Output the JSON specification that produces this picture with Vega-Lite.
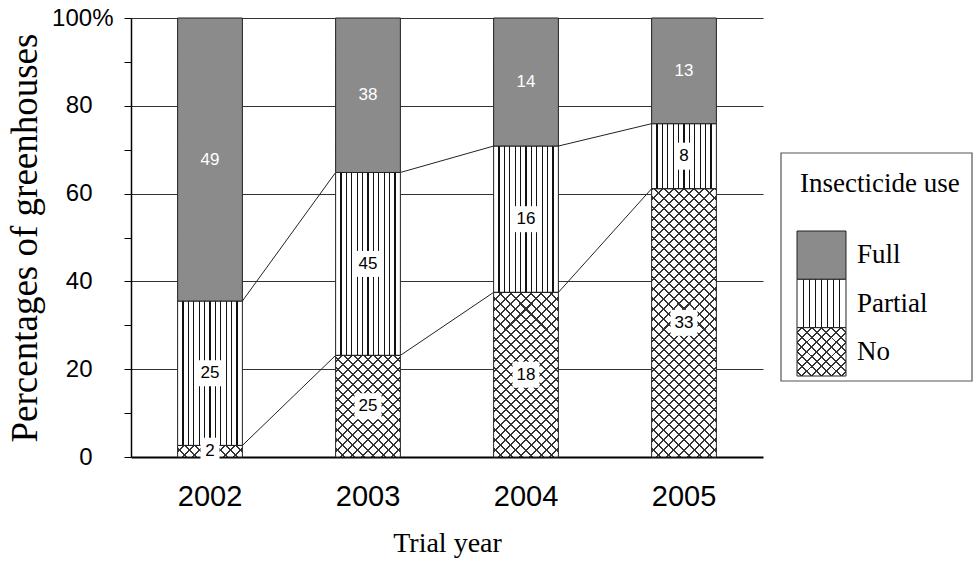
{
"$schema": "https://vega.github.io/schema/vega-lite/v6.json",
"width": 632, "height": 439,
"autosize": {"type": "none"},
"padding": {"left": 131, "top": 18, "right": 210, "bottom": 113},
"background": "white",
"config": {"view": {"stroke": null}, "font": "Liberation Sans"},
"resolve": {"scale": {"x": "independent", "y": "independent"}},
"layer": [
{
 "data": {"values": [
  {"year": "2002", "use": "No", "n": 2},
  {"year": "2002", "use": "Partial", "n": 25},
  {"year": "2002", "use": "Full", "n": 49},
  {"year": "2003", "use": "No", "n": 25},
  {"year": "2003", "use": "Partial", "n": 45},
  {"year": "2003", "use": "Full", "n": 38},
  {"year": "2004", "use": "No", "n": 18},
  {"year": "2004", "use": "Partial", "n": 16},
  {"year": "2004", "use": "Full", "n": 14},
  {"year": "2005", "use": "No", "n": 33},
  {"year": "2005", "use": "Partial", "n": 8},
  {"year": "2005", "use": "Full", "n": 13}
 ]},
 "transform": [
  {"calculate": "indexof(['No','Partial','Full'], datum.use)", "as": "order"},
  {"joinaggregate": [{"op": "sum", "field": "n", "as": "total"}], "groupby": ["year"]},
  {"window": [{"op": "sum", "field": "n", "as": "cum"}], "groupby": ["year"], "sort": [{"field": "order"}], "frame": [null, 0]},
  {"calculate": "100*datum.cum/datum.total", "as": "pct_end"},
  {"calculate": "100*(datum.cum-datum.n)/datum.total", "as": "pct_start"},
  {"calculate": "(datum.pct_start+datum.pct_end)/2", "as": "pct_mid"}
 ],
 "encoding": {
  "x": {"field": "year", "type": "ordinal", "title": "Trial year",
   "scale": {"paddingInner": 0.59, "paddingOuter": 0.295},
   "axis": {"ticks": false, "labelAngle": 0, "labelFont": "Liberation Sans", "labelFontSize": 29, "labelColor": "#000", "labelPadding": 25, "domainColor": "#000", "domainWidth": 2, "grid": false, "titleFont": "Liberation Serif", "titleFontSize": 28, "titleFontWeight": "normal", "titleColor": "#000", "titlePadding": 18}},
  "y": {"field": "pct_end", "type": "quantitative", "title": "Percentages of greenhouses",
   "scale": {"domain": [0, 100], "nice": false},
   "axis": {"values": [0,10,20,30,40,50,60,70,80,90,100],
    "labelExpr": "datum.value === 100 ? '100%' : (datum.value % 20 === 0 ? datum.label : '')",
    "grid": true,
    "gridOpacity": {"condition": {"test": "datum.value % 20 === 0 && datum.value > 0", "value": 1}, "value": 0},
    "gridColor": "#333", "gridWidth": 1,
    "labelPadding": {"condition": {"test": "datum.value === 100", "value": 11}, "value": 32},
    "tickSize": 7, "tickColor": "#000", "tickWidth": 1,
    "domainColor": "#000", "domainWidth": 1.5,
    "labelFont": "Liberation Sans", "labelFontSize": 24, "labelColor": "#000",
    "titleFont": "Liberation Serif", "titleFontSize": 37, "titleFontWeight": "normal", "titleColor": "#000", "titlePadding": 7}}
 },
 "layer": [
  {
   "transform": [
    {"filter": "datum.use !== 'Full'"},
    {"window": [{"op": "lead", "field": "pct_end", "as": "next_pct"}, {"op": "lead", "field": "year", "as": "next_year"}], "groupby": ["use"], "sort": [{"field": "year"}]},
    {"filter": "datum.next_year != null"}
   ],
   "mark": {"type": "rule", "stroke": "#222", "strokeWidth": 1},
   "encoding": {
    "x": {"field": "year", "type": "ordinal", "bandPosition": 1, "title": "Trial year"},
    "x2": {"field": "next_year", "bandPosition": 0},
    "y2": {"field": "next_pct"}
   }
  },
  {
   "transform": [{"filter": "datum.use === 'No'"}],
   "mark": {"type": "bar", "fill": {"gradient": "linear", "x1": 0, "y1": 0, "x2": 0.1658, "y2": 1.123, "stops": [
{"offset":0,"color":"#333"},{"offset":0.004,"color":"#333"},{"offset":0.004,"color":"#fff"},
{"offset":0.02,"color":"#fff"},{"offset":0.02,"color":"#333"},{"offset":0.024,"color":"#333"},{"offset":0.024,"color":"#fff"},
{"offset":0.04,"color":"#fff"},{"offset":0.04,"color":"#333"},{"offset":0.044,"color":"#333"},{"offset":0.044,"color":"#fff"},
{"offset":0.06,"color":"#fff"},{"offset":0.06,"color":"#333"},{"offset":0.064,"color":"#333"},{"offset":0.064,"color":"#fff"},
{"offset":0.08,"color":"#fff"},{"offset":0.08,"color":"#333"},{"offset":0.084,"color":"#333"},{"offset":0.084,"color":"#fff"},
{"offset":0.1,"color":"#fff"},{"offset":0.1,"color":"#333"},{"offset":0.104,"color":"#333"},{"offset":0.104,"color":"#fff"},
{"offset":0.12,"color":"#fff"},{"offset":0.12,"color":"#333"},{"offset":0.124,"color":"#333"},{"offset":0.124,"color":"#fff"},
{"offset":0.14,"color":"#fff"},{"offset":0.14,"color":"#333"},{"offset":0.144,"color":"#333"},{"offset":0.144,"color":"#fff"},
{"offset":0.16,"color":"#fff"},{"offset":0.16,"color":"#333"},{"offset":0.164,"color":"#333"},{"offset":0.164,"color":"#fff"},
{"offset":0.18,"color":"#fff"},{"offset":0.18,"color":"#333"},{"offset":0.184,"color":"#333"},{"offset":0.184,"color":"#fff"},
{"offset":0.2,"color":"#fff"},{"offset":0.2,"color":"#333"},{"offset":0.204,"color":"#333"},{"offset":0.204,"color":"#fff"},
{"offset":0.22,"color":"#fff"},{"offset":0.22,"color":"#333"},{"offset":0.224,"color":"#333"},{"offset":0.224,"color":"#fff"},
{"offset":0.24,"color":"#fff"},{"offset":0.24,"color":"#333"},{"offset":0.244,"color":"#333"},{"offset":0.244,"color":"#fff"},
{"offset":0.26,"color":"#fff"},{"offset":0.26,"color":"#333"},{"offset":0.264,"color":"#333"},{"offset":0.264,"color":"#fff"},
{"offset":0.28,"color":"#fff"},{"offset":0.28,"color":"#333"},{"offset":0.284,"color":"#333"},{"offset":0.284,"color":"#fff"},
{"offset":0.3,"color":"#fff"},{"offset":0.3,"color":"#333"},{"offset":0.304,"color":"#333"},{"offset":0.304,"color":"#fff"},
{"offset":0.32,"color":"#fff"},{"offset":0.32,"color":"#333"},{"offset":0.324,"color":"#333"},{"offset":0.324,"color":"#fff"},
{"offset":0.34,"color":"#fff"},{"offset":0.34,"color":"#333"},{"offset":0.344,"color":"#333"},{"offset":0.344,"color":"#fff"},
{"offset":0.36,"color":"#fff"},{"offset":0.36,"color":"#333"},{"offset":0.364,"color":"#333"},{"offset":0.364,"color":"#fff"},
{"offset":0.38,"color":"#fff"},{"offset":0.38,"color":"#333"},{"offset":0.384,"color":"#333"},{"offset":0.384,"color":"#fff"},
{"offset":0.4,"color":"#fff"},{"offset":0.4,"color":"#333"},{"offset":0.404,"color":"#333"},{"offset":0.404,"color":"#fff"},
{"offset":0.42,"color":"#fff"},{"offset":0.42,"color":"#333"},{"offset":0.424,"color":"#333"},{"offset":0.424,"color":"#fff"},
{"offset":0.44,"color":"#fff"},{"offset":0.44,"color":"#333"},{"offset":0.444,"color":"#333"},{"offset":0.444,"color":"#fff"},
{"offset":0.46,"color":"#fff"},{"offset":0.46,"color":"#333"},{"offset":0.464,"color":"#333"},{"offset":0.464,"color":"#fff"},
{"offset":0.48,"color":"#fff"},{"offset":0.48,"color":"#333"},{"offset":0.484,"color":"#333"},{"offset":0.484,"color":"#fff"},
{"offset":0.5,"color":"#fff"},{"offset":0.5,"color":"#333"},{"offset":0.504,"color":"#333"},{"offset":0.504,"color":"#fff"},
{"offset":0.52,"color":"#fff"},{"offset":0.52,"color":"#333"},{"offset":0.524,"color":"#333"},{"offset":0.524,"color":"#fff"},
{"offset":0.54,"color":"#fff"},{"offset":0.54,"color":"#333"},{"offset":0.544,"color":"#333"},{"offset":0.544,"color":"#fff"},
{"offset":0.56,"color":"#fff"},{"offset":0.56,"color":"#333"},{"offset":0.564,"color":"#333"},{"offset":0.564,"color":"#fff"},
{"offset":0.58,"color":"#fff"},{"offset":0.58,"color":"#333"},{"offset":0.584,"color":"#333"},{"offset":0.584,"color":"#fff"},
{"offset":0.6,"color":"#fff"},{"offset":0.6,"color":"#333"},{"offset":0.604,"color":"#333"},{"offset":0.604,"color":"#fff"},
{"offset":0.62,"color":"#fff"},{"offset":0.62,"color":"#333"},{"offset":0.624,"color":"#333"},{"offset":0.624,"color":"#fff"},
{"offset":0.64,"color":"#fff"},{"offset":0.64,"color":"#333"},{"offset":0.644,"color":"#333"},{"offset":0.644,"color":"#fff"},
{"offset":0.66,"color":"#fff"},{"offset":0.66,"color":"#333"},{"offset":0.664,"color":"#333"},{"offset":0.664,"color":"#fff"},
{"offset":0.68,"color":"#fff"},{"offset":0.68,"color":"#333"},{"offset":0.684,"color":"#333"},{"offset":0.684,"color":"#fff"},
{"offset":0.7,"color":"#fff"},{"offset":0.7,"color":"#333"},{"offset":0.704,"color":"#333"},{"offset":0.704,"color":"#fff"},
{"offset":0.72,"color":"#fff"},{"offset":0.72,"color":"#333"},{"offset":0.724,"color":"#333"},{"offset":0.724,"color":"#fff"},
{"offset":0.74,"color":"#fff"},{"offset":0.74,"color":"#333"},{"offset":0.744,"color":"#333"},{"offset":0.744,"color":"#fff"},
{"offset":0.76,"color":"#fff"},{"offset":0.76,"color":"#333"},{"offset":0.764,"color":"#333"},{"offset":0.764,"color":"#fff"},
{"offset":0.78,"color":"#fff"},{"offset":0.78,"color":"#333"},{"offset":0.784,"color":"#333"},{"offset":0.784,"color":"#fff"},
{"offset":0.8,"color":"#fff"},{"offset":0.8,"color":"#333"},{"offset":0.804,"color":"#333"},{"offset":0.804,"color":"#fff"},
{"offset":0.82,"color":"#fff"},{"offset":0.82,"color":"#333"},{"offset":0.824,"color":"#333"},{"offset":0.824,"color":"#fff"},
{"offset":0.84,"color":"#fff"},{"offset":0.84,"color":"#333"},{"offset":0.844,"color":"#333"},{"offset":0.844,"color":"#fff"},
{"offset":0.86,"color":"#fff"},{"offset":0.86,"color":"#333"},{"offset":0.864,"color":"#333"},{"offset":0.864,"color":"#fff"},
{"offset":0.88,"color":"#fff"},{"offset":0.88,"color":"#333"},{"offset":0.884,"color":"#333"},{"offset":0.884,"color":"#fff"},
{"offset":0.9,"color":"#fff"},{"offset":0.9,"color":"#333"},{"offset":0.904,"color":"#333"},{"offset":0.904,"color":"#fff"},
{"offset":0.92,"color":"#fff"},{"offset":0.92,"color":"#333"},{"offset":0.924,"color":"#333"},{"offset":0.924,"color":"#fff"},
{"offset":0.94,"color":"#fff"},{"offset":0.94,"color":"#333"},{"offset":0.944,"color":"#333"},{"offset":0.944,"color":"#fff"},
{"offset":0.96,"color":"#fff"},{"offset":0.96,"color":"#333"},{"offset":0.964,"color":"#333"},{"offset":0.964,"color":"#fff"},
{"offset":0.98,"color":"#fff"},{"offset":0.98,"color":"#333"},{"offset":0.984,"color":"#333"},{"offset":0.984,"color":"#fff"},
{"offset":1,"color":"#fff"}]}},
   "encoding": {
    "y": {"field": "pct_start", "type": "quantitative", "title": "Percentages of greenhouses"},
    "y2": {"datum": 100}
   }
  },
  {
   "transform": [{"filter": "datum.use === 'No'"}],
   "mark": {"type": "bar", "fill": {"gradient": "linear", "x1": 1, "y1": 0, "x2": 0.8342, "y2": 1.123, "stops": [
{"offset":0,"color":"#333"},{"offset":0.004,"color":"#333"},{"offset":0.004,"color":"rgba(0,0,0,0)"},
{"offset":0.02,"color":"rgba(0,0,0,0)"},{"offset":0.02,"color":"#333"},{"offset":0.024,"color":"#333"},{"offset":0.024,"color":"rgba(0,0,0,0)"},
{"offset":0.04,"color":"rgba(0,0,0,0)"},{"offset":0.04,"color":"#333"},{"offset":0.044,"color":"#333"},{"offset":0.044,"color":"rgba(0,0,0,0)"},
{"offset":0.06,"color":"rgba(0,0,0,0)"},{"offset":0.06,"color":"#333"},{"offset":0.064,"color":"#333"},{"offset":0.064,"color":"rgba(0,0,0,0)"},
{"offset":0.08,"color":"rgba(0,0,0,0)"},{"offset":0.08,"color":"#333"},{"offset":0.084,"color":"#333"},{"offset":0.084,"color":"rgba(0,0,0,0)"},
{"offset":0.1,"color":"rgba(0,0,0,0)"},{"offset":0.1,"color":"#333"},{"offset":0.104,"color":"#333"},{"offset":0.104,"color":"rgba(0,0,0,0)"},
{"offset":0.12,"color":"rgba(0,0,0,0)"},{"offset":0.12,"color":"#333"},{"offset":0.124,"color":"#333"},{"offset":0.124,"color":"rgba(0,0,0,0)"},
{"offset":0.14,"color":"rgba(0,0,0,0)"},{"offset":0.14,"color":"#333"},{"offset":0.144,"color":"#333"},{"offset":0.144,"color":"rgba(0,0,0,0)"},
{"offset":0.16,"color":"rgba(0,0,0,0)"},{"offset":0.16,"color":"#333"},{"offset":0.164,"color":"#333"},{"offset":0.164,"color":"rgba(0,0,0,0)"},
{"offset":0.18,"color":"rgba(0,0,0,0)"},{"offset":0.18,"color":"#333"},{"offset":0.184,"color":"#333"},{"offset":0.184,"color":"rgba(0,0,0,0)"},
{"offset":0.2,"color":"rgba(0,0,0,0)"},{"offset":0.2,"color":"#333"},{"offset":0.204,"color":"#333"},{"offset":0.204,"color":"rgba(0,0,0,0)"},
{"offset":0.22,"color":"rgba(0,0,0,0)"},{"offset":0.22,"color":"#333"},{"offset":0.224,"color":"#333"},{"offset":0.224,"color":"rgba(0,0,0,0)"},
{"offset":0.24,"color":"rgba(0,0,0,0)"},{"offset":0.24,"color":"#333"},{"offset":0.244,"color":"#333"},{"offset":0.244,"color":"rgba(0,0,0,0)"},
{"offset":0.26,"color":"rgba(0,0,0,0)"},{"offset":0.26,"color":"#333"},{"offset":0.264,"color":"#333"},{"offset":0.264,"color":"rgba(0,0,0,0)"},
{"offset":0.28,"color":"rgba(0,0,0,0)"},{"offset":0.28,"color":"#333"},{"offset":0.284,"color":"#333"},{"offset":0.284,"color":"rgba(0,0,0,0)"},
{"offset":0.3,"color":"rgba(0,0,0,0)"},{"offset":0.3,"color":"#333"},{"offset":0.304,"color":"#333"},{"offset":0.304,"color":"rgba(0,0,0,0)"},
{"offset":0.32,"color":"rgba(0,0,0,0)"},{"offset":0.32,"color":"#333"},{"offset":0.324,"color":"#333"},{"offset":0.324,"color":"rgba(0,0,0,0)"},
{"offset":0.34,"color":"rgba(0,0,0,0)"},{"offset":0.34,"color":"#333"},{"offset":0.344,"color":"#333"},{"offset":0.344,"color":"rgba(0,0,0,0)"},
{"offset":0.36,"color":"rgba(0,0,0,0)"},{"offset":0.36,"color":"#333"},{"offset":0.364,"color":"#333"},{"offset":0.364,"color":"rgba(0,0,0,0)"},
{"offset":0.38,"color":"rgba(0,0,0,0)"},{"offset":0.38,"color":"#333"},{"offset":0.384,"color":"#333"},{"offset":0.384,"color":"rgba(0,0,0,0)"},
{"offset":0.4,"color":"rgba(0,0,0,0)"},{"offset":0.4,"color":"#333"},{"offset":0.404,"color":"#333"},{"offset":0.404,"color":"rgba(0,0,0,0)"},
{"offset":0.42,"color":"rgba(0,0,0,0)"},{"offset":0.42,"color":"#333"},{"offset":0.424,"color":"#333"},{"offset":0.424,"color":"rgba(0,0,0,0)"},
{"offset":0.44,"color":"rgba(0,0,0,0)"},{"offset":0.44,"color":"#333"},{"offset":0.444,"color":"#333"},{"offset":0.444,"color":"rgba(0,0,0,0)"},
{"offset":0.46,"color":"rgba(0,0,0,0)"},{"offset":0.46,"color":"#333"},{"offset":0.464,"color":"#333"},{"offset":0.464,"color":"rgba(0,0,0,0)"},
{"offset":0.48,"color":"rgba(0,0,0,0)"},{"offset":0.48,"color":"#333"},{"offset":0.484,"color":"#333"},{"offset":0.484,"color":"rgba(0,0,0,0)"},
{"offset":0.5,"color":"rgba(0,0,0,0)"},{"offset":0.5,"color":"#333"},{"offset":0.504,"color":"#333"},{"offset":0.504,"color":"rgba(0,0,0,0)"},
{"offset":0.52,"color":"rgba(0,0,0,0)"},{"offset":0.52,"color":"#333"},{"offset":0.524,"color":"#333"},{"offset":0.524,"color":"rgba(0,0,0,0)"},
{"offset":0.54,"color":"rgba(0,0,0,0)"},{"offset":0.54,"color":"#333"},{"offset":0.544,"color":"#333"},{"offset":0.544,"color":"rgba(0,0,0,0)"},
{"offset":0.56,"color":"rgba(0,0,0,0)"},{"offset":0.56,"color":"#333"},{"offset":0.564,"color":"#333"},{"offset":0.564,"color":"rgba(0,0,0,0)"},
{"offset":0.58,"color":"rgba(0,0,0,0)"},{"offset":0.58,"color":"#333"},{"offset":0.584,"color":"#333"},{"offset":0.584,"color":"rgba(0,0,0,0)"},
{"offset":0.6,"color":"rgba(0,0,0,0)"},{"offset":0.6,"color":"#333"},{"offset":0.604,"color":"#333"},{"offset":0.604,"color":"rgba(0,0,0,0)"},
{"offset":0.62,"color":"rgba(0,0,0,0)"},{"offset":0.62,"color":"#333"},{"offset":0.624,"color":"#333"},{"offset":0.624,"color":"rgba(0,0,0,0)"},
{"offset":0.64,"color":"rgba(0,0,0,0)"},{"offset":0.64,"color":"#333"},{"offset":0.644,"color":"#333"},{"offset":0.644,"color":"rgba(0,0,0,0)"},
{"offset":0.66,"color":"rgba(0,0,0,0)"},{"offset":0.66,"color":"#333"},{"offset":0.664,"color":"#333"},{"offset":0.664,"color":"rgba(0,0,0,0)"},
{"offset":0.68,"color":"rgba(0,0,0,0)"},{"offset":0.68,"color":"#333"},{"offset":0.684,"color":"#333"},{"offset":0.684,"color":"rgba(0,0,0,0)"},
{"offset":0.7,"color":"rgba(0,0,0,0)"},{"offset":0.7,"color":"#333"},{"offset":0.704,"color":"#333"},{"offset":0.704,"color":"rgba(0,0,0,0)"},
{"offset":0.72,"color":"rgba(0,0,0,0)"},{"offset":0.72,"color":"#333"},{"offset":0.724,"color":"#333"},{"offset":0.724,"color":"rgba(0,0,0,0)"},
{"offset":0.74,"color":"rgba(0,0,0,0)"},{"offset":0.74,"color":"#333"},{"offset":0.744,"color":"#333"},{"offset":0.744,"color":"rgba(0,0,0,0)"},
{"offset":0.76,"color":"rgba(0,0,0,0)"},{"offset":0.76,"color":"#333"},{"offset":0.764,"color":"#333"},{"offset":0.764,"color":"rgba(0,0,0,0)"},
{"offset":0.78,"color":"rgba(0,0,0,0)"},{"offset":0.78,"color":"#333"},{"offset":0.784,"color":"#333"},{"offset":0.784,"color":"rgba(0,0,0,0)"},
{"offset":0.8,"color":"rgba(0,0,0,0)"},{"offset":0.8,"color":"#333"},{"offset":0.804,"color":"#333"},{"offset":0.804,"color":"rgba(0,0,0,0)"},
{"offset":0.82,"color":"rgba(0,0,0,0)"},{"offset":0.82,"color":"#333"},{"offset":0.824,"color":"#333"},{"offset":0.824,"color":"rgba(0,0,0,0)"},
{"offset":0.84,"color":"rgba(0,0,0,0)"},{"offset":0.84,"color":"#333"},{"offset":0.844,"color":"#333"},{"offset":0.844,"color":"rgba(0,0,0,0)"},
{"offset":0.86,"color":"rgba(0,0,0,0)"},{"offset":0.86,"color":"#333"},{"offset":0.864,"color":"#333"},{"offset":0.864,"color":"rgba(0,0,0,0)"},
{"offset":0.88,"color":"rgba(0,0,0,0)"},{"offset":0.88,"color":"#333"},{"offset":0.884,"color":"#333"},{"offset":0.884,"color":"rgba(0,0,0,0)"},
{"offset":0.9,"color":"rgba(0,0,0,0)"},{"offset":0.9,"color":"#333"},{"offset":0.904,"color":"#333"},{"offset":0.904,"color":"rgba(0,0,0,0)"},
{"offset":0.92,"color":"rgba(0,0,0,0)"},{"offset":0.92,"color":"#333"},{"offset":0.924,"color":"#333"},{"offset":0.924,"color":"rgba(0,0,0,0)"},
{"offset":0.94,"color":"rgba(0,0,0,0)"},{"offset":0.94,"color":"#333"},{"offset":0.944,"color":"#333"},{"offset":0.944,"color":"rgba(0,0,0,0)"},
{"offset":0.96,"color":"rgba(0,0,0,0)"},{"offset":0.96,"color":"#333"},{"offset":0.964,"color":"#333"},{"offset":0.964,"color":"rgba(0,0,0,0)"},
{"offset":0.98,"color":"rgba(0,0,0,0)"},{"offset":0.98,"color":"#333"},{"offset":0.984,"color":"#333"},{"offset":0.984,"color":"rgba(0,0,0,0)"},
{"offset":1,"color":"rgba(0,0,0,0)"}]}},
   "encoding": {
    "y": {"field": "pct_start", "type": "quantitative", "title": "Percentages of greenhouses"},
    "y2": {"datum": 100}
   }
  },
  {
   "transform": [{"filter": "datum.use === 'Partial'"}],
   "mark": {"type": "bar", "stroke": "#222", "strokeWidth": 1, "fill": {"gradient": "linear", "x1": 0, "y1": 0, "x2": 1, "y2": 0, "stops": [
{"offset":0,"color":"#fff"},
{"offset":0.0733,"color":"#fff"},{"offset":0.0733,"color":"#111"},{"offset":0.0933,"color":"#111"},{"offset":0.0933,"color":"#fff"},
{"offset":0.1567,"color":"#fff"},{"offset":0.1567,"color":"#111"},{"offset":0.1767,"color":"#111"},{"offset":0.1767,"color":"#fff"},
{"offset":0.24,"color":"#fff"},{"offset":0.24,"color":"#111"},{"offset":0.26,"color":"#111"},{"offset":0.26,"color":"#fff"},
{"offset":0.3233,"color":"#fff"},{"offset":0.3233,"color":"#111"},{"offset":0.3433,"color":"#111"},{"offset":0.3433,"color":"#fff"},
{"offset":0.4067,"color":"#fff"},{"offset":0.4067,"color":"#111"},{"offset":0.4267,"color":"#111"},{"offset":0.4267,"color":"#fff"},
{"offset":0.49,"color":"#fff"},{"offset":0.49,"color":"#111"},{"offset":0.51,"color":"#111"},{"offset":0.51,"color":"#fff"},
{"offset":0.5733,"color":"#fff"},{"offset":0.5733,"color":"#111"},{"offset":0.5933,"color":"#111"},{"offset":0.5933,"color":"#fff"},
{"offset":0.6567,"color":"#fff"},{"offset":0.6567,"color":"#111"},{"offset":0.6767,"color":"#111"},{"offset":0.6767,"color":"#fff"},
{"offset":0.74,"color":"#fff"},{"offset":0.74,"color":"#111"},{"offset":0.76,"color":"#111"},{"offset":0.76,"color":"#fff"},
{"offset":0.8233,"color":"#fff"},{"offset":0.8233,"color":"#111"},{"offset":0.8433,"color":"#111"},{"offset":0.8433,"color":"#fff"},
{"offset":0.9067,"color":"#fff"},{"offset":0.9067,"color":"#111"},{"offset":0.9267,"color":"#111"},{"offset":0.9267,"color":"#fff"},
{"offset":1,"color":"#fff"}]}},
   "encoding": {
    "y": {"field": "pct_start", "type": "quantitative", "title": "Percentages of greenhouses"},
    "y2": {"field": "pct_end"}
   }
  },
  {
   "transform": [{"filter": "datum.use === 'Full'"}],
   "mark": {"type": "bar", "fill": "#8b8b8b", "stroke": "#222", "strokeWidth": 1},
   "encoding": {
    "y": {"field": "pct_start", "type": "quantitative", "title": "Percentages of greenhouses"},
    "y2": {"field": "pct_end"}
   }
  },
  {
   "transform": [{"filter": "datum.use === 'No'"}],
   "mark": {"type": "bar", "fill": "#000", "fillOpacity": 0, "stroke": "#222", "strokeWidth": 1},
   "encoding": {
    "y": {"field": "pct_start", "type": "quantitative", "title": "Percentages of greenhouses"},
    "y2": {"field": "pct_end"}
   }
  },
  {
   "transform": [{"filter": "datum.use !== 'Full'"}],
   "mark": {"type": "point", "filled": true, "fill": "white", "opacity": 1, "strokeWidth": 0, "size": 400},
   "encoding": {
    "y": {"field": "pct_mid", "type": "quantitative", "title": "Percentages of greenhouses"},
    "shape": {"condition": {"test": "datum.n < 10", "value": "M-0.95,-1.35L0.95,-1.35L0.95,1.35L-0.95,1.35Z"}, "value": "M-1.35,-1.3L1.35,-1.3L1.35,1.3L-1.35,1.3Z"}
   }
  },
  {
   "mark": {"type": "text", "font": "Liberation Sans", "fontSize": 17, "align": "center", "baseline": "middle"},
   "encoding": {
    "y": {"field": "pct_mid", "type": "quantitative", "title": "Percentages of greenhouses"},
    "text": {"field": "n", "type": "quantitative"},
    "color": {"condition": {"test": "datum.use === 'Full'", "value": "white"}, "value": "black"}
   }
  }
 ]
},
{
 "data": {"values": [{"label": "Insecticide use"}]},
 "layer": [
  {
   "mark": {"type": "rect", "fill": "#fff", "fillOpacity": 0, "stroke": "#555", "strokeWidth": 1.2},
   "encoding": {
    "x": {"datum": 0, "type": "quantitative", "scale": {"domain": [0, 100], "range": [650, 841]}, "axis": null},
    "x2": {"datum": 100},
    "y": {"datum": 0, "type": "quantitative", "scale": {"domain": [0, 100], "range": [135, 363]}, "axis": null},
    "y2": {"datum": 100}
   }
  },
  {
   "mark": {"type": "text", "align": "left", "baseline": "middle", "font": "Liberation Serif", "fontSize": 27, "color": "#000"},
   "encoding": {
    "text": {"field": "label"},
    "x": {"datum": 9.95, "type": "quantitative", "scale": {"domain": [0, 100], "range": [650, 841]}, "axis": null},
    "y": {"datum": 13.6, "type": "quantitative", "scale": {"domain": [0, 100], "range": [135, 363]}, "axis": null}
   }
  }
 ]
},
{
 "data": {"values": [{"use": "Full"}, {"use": "Partial"}, {"use": "No"}]},
 "encoding": {
  "y": {"field": "use", "type": "nominal", "scale": {"domain": ["Full", "Partial", "No"], "range": [213, 358], "paddingInner": 0, "paddingOuter": 0}, "axis": null}
 },
 "layer": [
  {
   "transform": [{"filter": "datum.use === 'Full'"}],
   "mark": {"type": "rect", "fill": "#8b8b8b", "stroke": "#222", "strokeWidth": 1},
   "encoding": {
    "x": {"datum": 8.38, "type": "quantitative", "scale": {"domain": [0, 100], "range": [650, 841]}, "axis": null},
    "x2": {"datum": 34.03}
   }
  },
  {
   "transform": [{"filter": "datum.use === 'Partial'"}],
   "mark": {"type": "rect", "stroke": "#222", "strokeWidth": 1, "fill": {"gradient": "linear", "x1": 0, "y1": 0, "x2": 1, "y2": 0, "stops": [
{"offset":0,"color":"#fff"},
{"offset":0.1125,"color":"#fff"},{"offset":0.1125,"color":"#111"},{"offset":0.1375,"color":"#111"},{"offset":0.1375,"color":"#fff"},
{"offset":0.2375,"color":"#fff"},{"offset":0.2375,"color":"#111"},{"offset":0.2625,"color":"#111"},{"offset":0.2625,"color":"#fff"},
{"offset":0.3625,"color":"#fff"},{"offset":0.3625,"color":"#111"},{"offset":0.3875,"color":"#111"},{"offset":0.3875,"color":"#fff"},
{"offset":0.4875,"color":"#fff"},{"offset":0.4875,"color":"#111"},{"offset":0.5125,"color":"#111"},{"offset":0.5125,"color":"#fff"},
{"offset":0.6125,"color":"#fff"},{"offset":0.6125,"color":"#111"},{"offset":0.6375,"color":"#111"},{"offset":0.6375,"color":"#fff"},
{"offset":0.7375,"color":"#fff"},{"offset":0.7375,"color":"#111"},{"offset":0.7625,"color":"#111"},{"offset":0.7625,"color":"#fff"},
{"offset":0.8625,"color":"#fff"},{"offset":0.8625,"color":"#111"},{"offset":0.8875,"color":"#111"},{"offset":0.8875,"color":"#fff"},
{"offset":1,"color":"#fff"}]}},
   "encoding": {
    "x": {"datum": 8.38, "type": "quantitative", "scale": {"domain": [0, 100], "range": [650, 841]}, "axis": null},
    "x2": {"datum": 34.03}
   }
  },
  {
   "transform": [{"filter": "datum.use === 'No'"}],
   "mark": {"type": "rect", "fill": {"gradient": "linear", "x1": 0, "y1": 0, "x2": 1, "y2": 1, "stops": [
{"offset":0,"color":"#fff"},
{"offset":0.04,"color":"#fff"},{"offset":0.04,"color":"#333"},{"offset":0.06,"color":"#333"},{"offset":0.06,"color":"#fff"},
{"offset":0.14,"color":"#fff"},{"offset":0.14,"color":"#333"},{"offset":0.16,"color":"#333"},{"offset":0.16,"color":"#fff"},
{"offset":0.24,"color":"#fff"},{"offset":0.24,"color":"#333"},{"offset":0.26,"color":"#333"},{"offset":0.26,"color":"#fff"},
{"offset":0.34,"color":"#fff"},{"offset":0.34,"color":"#333"},{"offset":0.36,"color":"#333"},{"offset":0.36,"color":"#fff"},
{"offset":0.44,"color":"#fff"},{"offset":0.44,"color":"#333"},{"offset":0.46,"color":"#333"},{"offset":0.46,"color":"#fff"},
{"offset":0.54,"color":"#fff"},{"offset":0.54,"color":"#333"},{"offset":0.56,"color":"#333"},{"offset":0.56,"color":"#fff"},
{"offset":0.64,"color":"#fff"},{"offset":0.64,"color":"#333"},{"offset":0.66,"color":"#333"},{"offset":0.66,"color":"#fff"},
{"offset":0.74,"color":"#fff"},{"offset":0.74,"color":"#333"},{"offset":0.76,"color":"#333"},{"offset":0.76,"color":"#fff"},
{"offset":0.84,"color":"#fff"},{"offset":0.84,"color":"#333"},{"offset":0.86,"color":"#333"},{"offset":0.86,"color":"#fff"},
{"offset":0.94,"color":"#fff"},{"offset":0.94,"color":"#333"},{"offset":0.96,"color":"#333"},{"offset":0.96,"color":"#fff"},
{"offset":1,"color":"#fff"}]}},
   "encoding": {
    "x": {"datum": 8.38, "type": "quantitative", "scale": {"domain": [0, 100], "range": [650, 841]}, "axis": null},
    "x2": {"datum": 34.03}
   }
  },
  {
   "transform": [{"filter": "datum.use === 'No'"}],
   "mark": {"type": "rect", "stroke": "#222", "strokeWidth": 1, "fill": {"gradient": "linear", "x1": 1, "y1": 0, "x2": 0, "y2": 1, "stops": [
{"offset":0,"color":"rgba(0,0,0,0)"},
{"offset":0.04,"color":"rgba(0,0,0,0)"},{"offset":0.04,"color":"#333"},{"offset":0.06,"color":"#333"},{"offset":0.06,"color":"rgba(0,0,0,0)"},
{"offset":0.14,"color":"rgba(0,0,0,0)"},{"offset":0.14,"color":"#333"},{"offset":0.16,"color":"#333"},{"offset":0.16,"color":"rgba(0,0,0,0)"},
{"offset":0.24,"color":"rgba(0,0,0,0)"},{"offset":0.24,"color":"#333"},{"offset":0.26,"color":"#333"},{"offset":0.26,"color":"rgba(0,0,0,0)"},
{"offset":0.34,"color":"rgba(0,0,0,0)"},{"offset":0.34,"color":"#333"},{"offset":0.36,"color":"#333"},{"offset":0.36,"color":"rgba(0,0,0,0)"},
{"offset":0.44,"color":"rgba(0,0,0,0)"},{"offset":0.44,"color":"#333"},{"offset":0.46,"color":"#333"},{"offset":0.46,"color":"rgba(0,0,0,0)"},
{"offset":0.54,"color":"rgba(0,0,0,0)"},{"offset":0.54,"color":"#333"},{"offset":0.56,"color":"#333"},{"offset":0.56,"color":"rgba(0,0,0,0)"},
{"offset":0.64,"color":"rgba(0,0,0,0)"},{"offset":0.64,"color":"#333"},{"offset":0.66,"color":"#333"},{"offset":0.66,"color":"rgba(0,0,0,0)"},
{"offset":0.74,"color":"rgba(0,0,0,0)"},{"offset":0.74,"color":"#333"},{"offset":0.76,"color":"#333"},{"offset":0.76,"color":"rgba(0,0,0,0)"},
{"offset":0.84,"color":"rgba(0,0,0,0)"},{"offset":0.84,"color":"#333"},{"offset":0.86,"color":"#333"},{"offset":0.86,"color":"rgba(0,0,0,0)"},
{"offset":0.94,"color":"rgba(0,0,0,0)"},{"offset":0.94,"color":"#333"},{"offset":0.96,"color":"#333"},{"offset":0.96,"color":"rgba(0,0,0,0)"},
{"offset":1,"color":"rgba(0,0,0,0)"}]}},
   "encoding": {
    "x": {"datum": 8.38, "type": "quantitative", "scale": {"domain": [0, 100], "range": [650, 841]}, "axis": null},
    "x2": {"datum": 34.03}
   }
  },
  {
   "mark": {"type": "text", "align": "left", "baseline": "middle", "font": "Liberation Serif", "fontSize": 27, "color": "#000"},
   "encoding": {
    "text": {"field": "use"},
    "x": {"datum": 39.8, "type": "quantitative", "scale": {"domain": [0, 100], "range": [650, 841]}, "axis": null}
   }
  }
 ]
}
]
}
